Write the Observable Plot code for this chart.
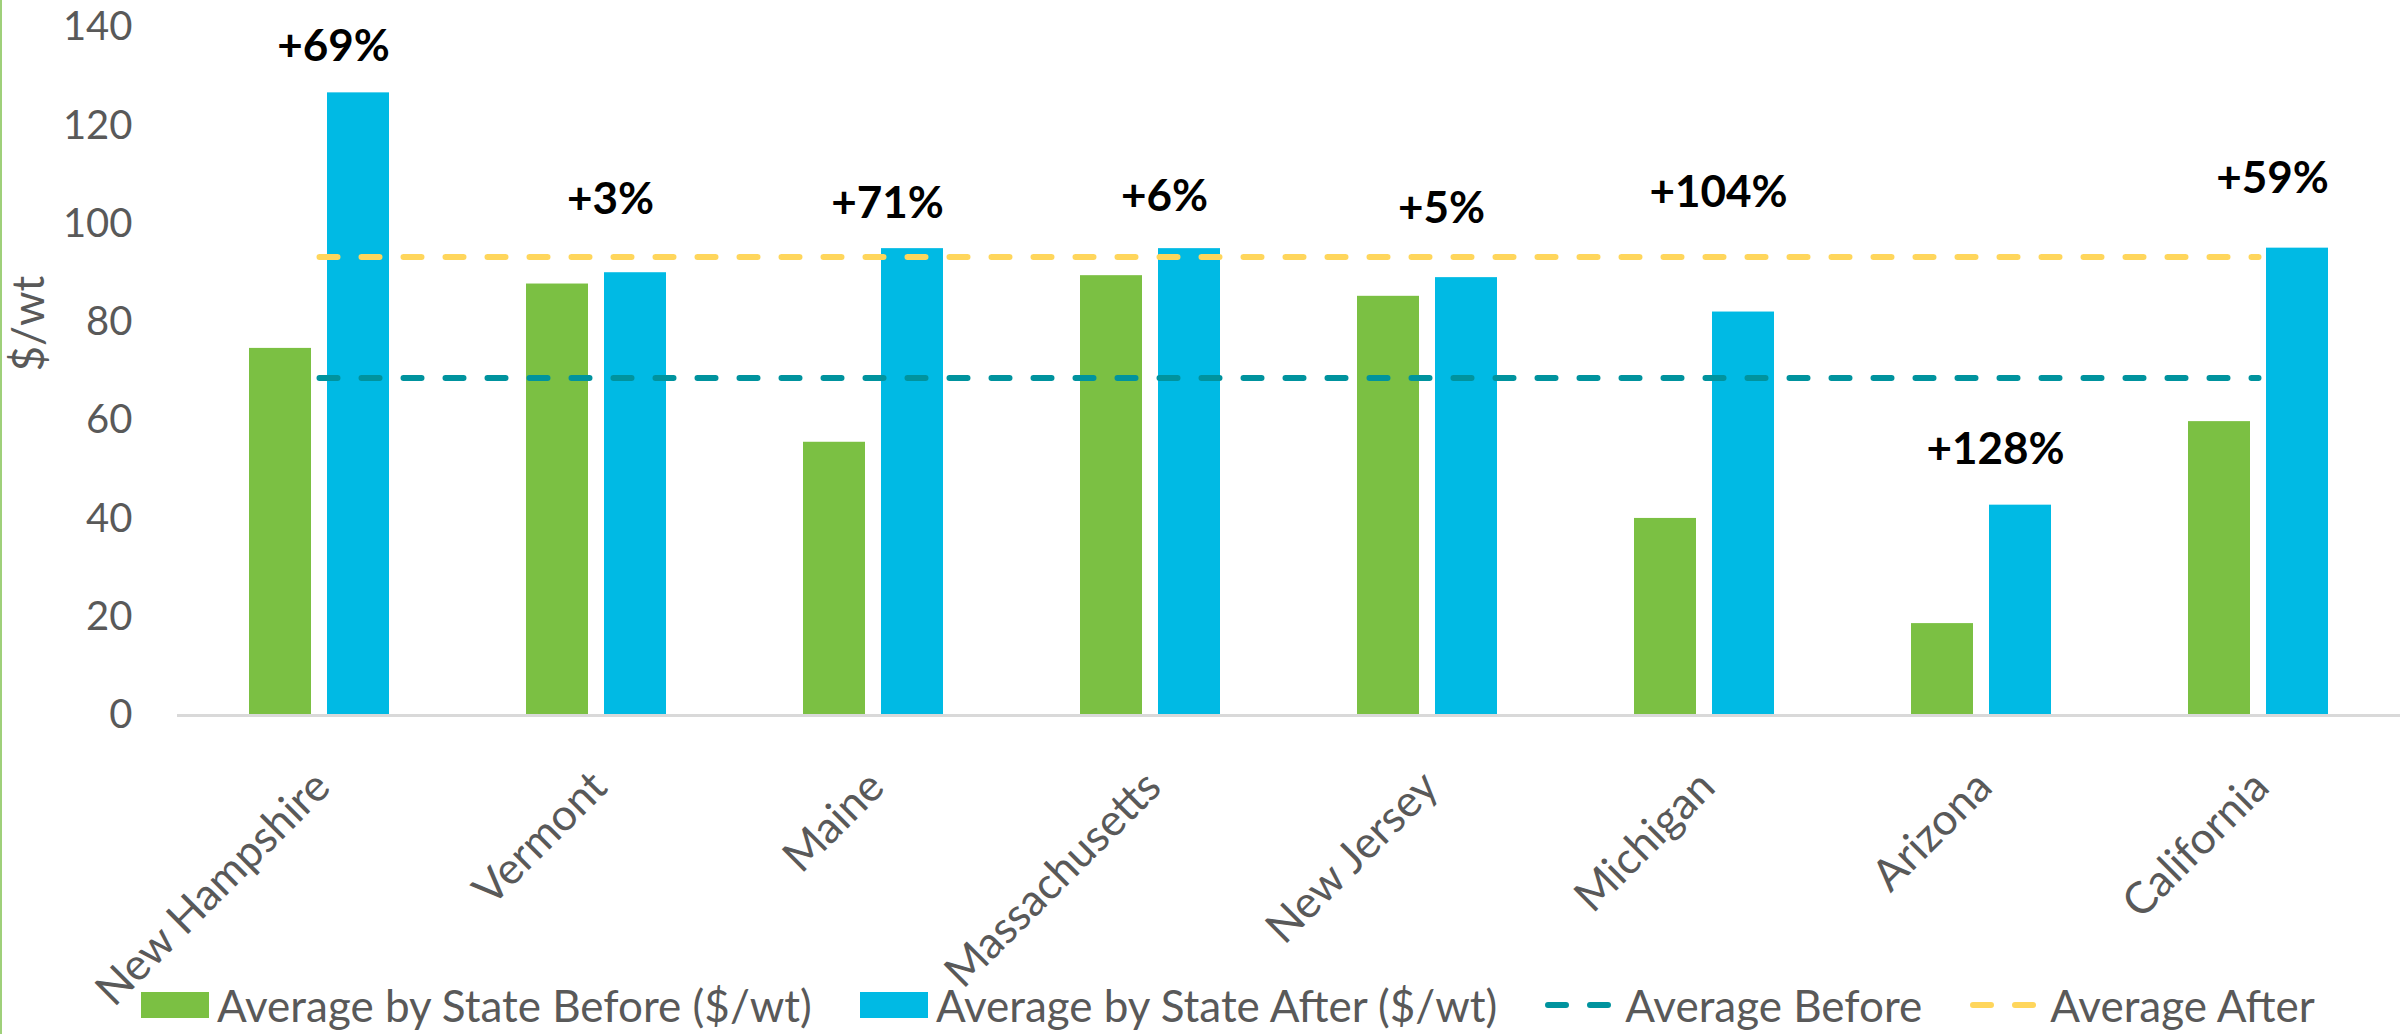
<!DOCTYPE html>
<html>
<head>
<meta charset="utf-8">
<script src="https://cdn.jsdelivr.net/npm/d3@7"></script>
<script src="https://cdn.jsdelivr.net/npm/@observablehq/plot@0.6"></script>
<style>
  html, body { margin: 0; padding: 0; background: #ffffff; }
  #wrap { position: relative; width: 2400px; height: 1034px; overflow: hidden; font-family: Lato, "Open Sans", sans-serif; }
  #edge { position: absolute; left: 0; top: 0; width: 2px; height: 1034px; background: #9fd07a; }
  #legend { display: flex; align-items: center; height: 59px; padding-left: 141px; color: #595959; font-size: 44px; white-space: nowrap; }
  .item { display: flex; align-items: center; }
  .sw { display: inline-block; width: 68px; height: 26px; margin-right: 8px; }
  .txt { margin-right: 48px; }
</style>
</head>
<body>
<div id="wrap"><div id="edge"></div><div id="chart"></div><div id="legend"></div></div>
<script>
// ---- data ----
const states = ["New Hampshire", "Vermont", "Maine", "Massachusetts", "New Jersey", "Michigan", "Arizona", "California"];
const beforeValues = [74.7, 87.8, 55.6, 89.5, 85.3, 40.1, 18.7, 59.8];
const afterValues = [126.7, 90.1, 95.0, 95.0, 89.1, 82.1, 42.8, 95.1];
const changeLabels = ["+69%", "+3%", "+71%", "+6%", "+5%", "+104%", "+128%", "+59%"];
const labelAt = [136.0, 105.0, 104.1, 105.6, 103.0, 106.4, 54.0, 109.2];
const averageBefore = 68.7;
const averageAfter = 93.3;
const yTicks = [0, 20, 40, 60, 80, 100, 120, 140];
const seriesNames = ["Average by State Before ($/wt)", "Average by State After ($/wt)", "Average Before", "Average After"];
const yTitle = "$/wt";

const colors = { before: "#7bc043", after: "#00bae4", avgBefore: "#00939e", avgAfter: "#ffd65c" };

const rows = states.map((s, i) => ({ state: s, before: beforeValues[i], after: afterValues[i], label: changeLabels[i], at: labelAt[i] }));
const avgRows = states.map(s => ({ state: s, b: averageBefore, a: averageAfter }));

const chart = Plot.plot({
  width: 2400,
  height: 975,
  marginLeft: 177,
  marginRight: 0,
  marginTop: 27,
  marginBottom: 260,
  style: { fontFamily: "Lato, 'Open Sans', sans-serif", fontSize: "42px", color: "#595959", background: "transparent", overflow: "visible" },
  x: { domain: states, paddingInner: 0.496, paddingOuter: 0.248 },
  y: { domain: [0, 140] },
  marks: [
    Plot.axisY({ ticks: yTicks, tickSize: 0, tickPadding: 45, label: null, fontSize: 40 }),
    Plot.axisX({ tickRotate: -45, tickSize: 0, tickPadding: 64, dx: 3, label: null, fontSize: 44 }),
    Plot.text([yTitle], { frameAnchor: "left", dx: -148, rotate: -90, fontSize: 44, fill: "#595959" }),
    Plot.barY(rows, { x: "state", y: "before", fill: colors.before, insetRight: 78 }),
    Plot.barY(rows, { x: "state", y: "after", fill: colors.after, insetLeft: 78 }),
    Plot.ruleY([0], { stroke: "#d9d9d9", strokeWidth: 3 }),
    Plot.lineY(avgRows, { x: "state", y: "b", stroke: colors.avgBefore, strokeWidth: 6, strokeDasharray: "18,24", strokeLinecap: "round" }),
    Plot.lineY(avgRows, { x: "state", y: "a", stroke: colors.avgAfter, strokeWidth: 6, strokeDasharray: "18,24", strokeLinecap: "round" }),
    Plot.text(rows, { x: "state", y: "at", text: "label", dx: 14, fontSize: 44, fontWeight: "bold", fill: "#000000" })
  ]
});
document.getElementById("chart").appendChild(chart);

// legend
const legend = document.getElementById("legend");
const swatchKinds = ["bar", "bar", "dash", "dash"];
const swatchColors = [colors.before, colors.after, colors.avgBefore, colors.avgAfter];
seriesNames.forEach((name, i) => {
  const item = document.createElement("div");
  item.className = "item";
  if (swatchKinds[i] === "bar") {
    const sw = document.createElement("span");
    sw.className = "sw";
    sw.style.background = swatchColors[i];
    item.appendChild(sw);
  } else {
    const ns = "http://www.w3.org/2000/svg";
    const svg = document.createElementNS(ns, "svg");
    svg.setAttribute("width", 68);
    svg.setAttribute("height", 26);
    svg.style.marginRight = "12px";
    const line = document.createElementNS(ns, "line");
    line.setAttribute("x1", 3); line.setAttribute("x2", 66);
    line.setAttribute("y1", 13); line.setAttribute("y2", 13);
    line.setAttribute("stroke", swatchColors[i]);
    line.setAttribute("stroke-width", 6);
    line.setAttribute("stroke-linecap", "round");
    line.setAttribute("stroke-dasharray", "18,24");
    svg.appendChild(line);
    item.appendChild(svg);
  }
  const t = document.createElement("span");
  t.className = "txt";
  t.textContent = name;
  item.appendChild(t);
  legend.appendChild(item);
});
</script>
</body>
</html>
